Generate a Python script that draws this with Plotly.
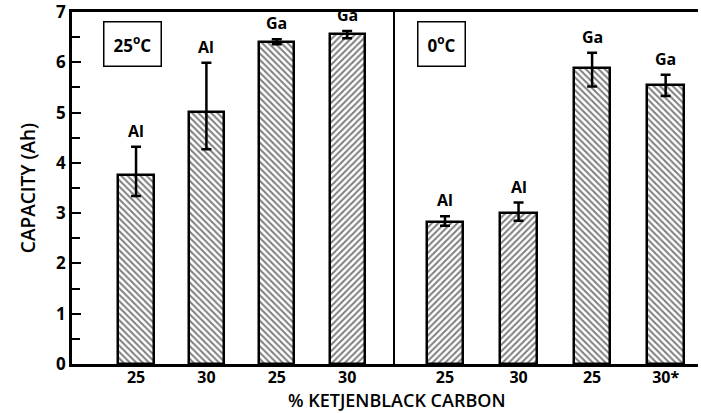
import plotly.graph_objects as go
from plotly.subplots import make_subplots

# ---- data ----
carbon_25C = ["25", "30", "25", "30"]
carbon_0C = ["25", "30", "25", "30*"]
cathode_25C = ["Al", "Al", "Ga", "Ga"]
cathode_0C = ["Al", "Al", "Ga", "Ga"]
capacity_25C = [3.76, 5.02, 6.41, 6.56]
err_plus_25C = [0.56, 0.97, 0.05, 0.06]
err_minus_25C = [0.42, 0.75, 0.05, 0.08]
capacity_0C = [2.83, 3.01, 5.88, 5.55]
err_plus_0C = [0.11, 0.20, 0.31, 0.20]
err_minus_0C = [0.08, 0.16, 0.36, 0.22]
hatch_25C = ["\\", "\\", "\\", "/"]
hatch_0C = ["/", "/", "\\", "\\"]
panel_titles = ["25<sup>o</sup>C", "0<sup>o</sup>C"]
y_ticks = [0, 1, 2, 3, 4, 5, 6, 7]
y_title = "CAPACITY (Ah)"
x_title = "% KETJENBLACK CARBON"

FONT = "Open Sans"
W, H = 701, 413
L, R, T, B = 72, 3, 12, 49
split_px = 395
left_frac = (split_px - L) / (W - L - R)

fig = make_subplots(rows=1, cols=2, shared_yaxes=True, horizontal_spacing=0,
                    column_widths=[left_frac, 1 - left_frac])

panels = [
    (carbon_25C, cathode_25C, capacity_25C, err_plus_25C, err_minus_25C, hatch_25C),
    (carbon_0C, cathode_0C, capacity_0C, err_plus_0C, err_minus_0C, hatch_0C),
]

for col, (cats, metal, vals, ep, em, hatch) in enumerate(panels, start=1):
    idx = list(range(len(cats)))
    fig.add_trace(go.Bar(
        x=idx, y=vals, width=0.5,
        marker=dict(color="white",
                    line=dict(color="black", width=2.5),
                    pattern=dict(shape=hatch, fgcolor="black", bgcolor="white",
                                 size=4.5, solidity=0.45, fillmode="overlay")),
        error_y=dict(type="data", array=ep, arrayminus=em, symmetric=False,
                     color="black", thickness=2.5, width=5),
        showlegend=False,
    ), row=1, col=col)
    xref = "x" if col == 1 else "x2"
    yref = "y" if col == 1 else "y2"
    for i, (m, v, e) in enumerate(zip(metal, vals, ep)):
        fig.add_annotation(x=i, y=v + e, xref=xref, yref=yref, text=m,
                           showarrow=False, yanchor="bottom", yshift=3,
                           font=dict(family=FONT, size=16, color="black", weight="bold"))
    fig.add_annotation(x=-0.05, y=6.36, xref=xref, yref=yref, text=panel_titles[col - 1],
                       showarrow=False, bordercolor="black", borderwidth=1.5,
                       borderpad=9, bgcolor="white",
                       font=dict(family=FONT, size=17, color="black", weight="bold"))

xaxis_common = dict(showline=True, linecolor="black", linewidth=2.5, mirror=True,
                    ticks="", showgrid=False, zeroline=False, ticklabelstandoff=-3,
                    tickfont=dict(family=FONT, size=16, color="black", weight="bold"))
fig.update_xaxes(**xaxis_common, tickvals=list(range(4)), ticktext=carbon_25C,
                 range=[-0.91, 3.68], row=1, col=1)
fig.update_xaxes(**xaxis_common, tickvals=list(range(4)), ticktext=carbon_0C,
                 range=[-0.68, 3.44], row=1, col=2)

fig.update_yaxes(range=[0, 7.0], tickvals=y_ticks, showline=True, linecolor="black",
                 linewidth=2.5, automargin=False, ticklabeloverflow="allow",
                 ticks="inside", ticklen=9, tickwidth=2, tickcolor="black",
                 minor=dict(dtick=0.5, ticks="inside", ticklen=8, tickwidth=2, tickcolor="black"),
                 showgrid=False, zeroline=False,
                 tickfont=dict(family=FONT, size=17, color="black", weight="bold"),
                 title=dict(text=y_title, standoff=16,
                            font=dict(family=FONT, size=19, color="black", weight=600)),
                 row=1, col=1)
fig.update_yaxes(range=[0, 7.0], showline=True, linecolor="black", linewidth=1.5,
                 ticks="", showticklabels=False, showgrid=False, zeroline=False,
                 row=1, col=2)

fig.add_annotation(
    x=(397 - L) / (W - L - R), xref="paper",
    y=-(400 - (H - B)) / (H - T - B), yref="paper",
    text=x_title, showarrow=False, yanchor="middle", xanchor="center",
    font=dict(family=FONT, size=18, color="black", weight=600))

fig.update_layout(width=W, height=H, margin=dict(l=L, r=R, t=T, b=B),
                  paper_bgcolor="white", plot_bgcolor="white", bargap=0)

fig.write_html("out.html", config={"displayModeBar": False},
               post_script="document.body.style.margin='0';")
